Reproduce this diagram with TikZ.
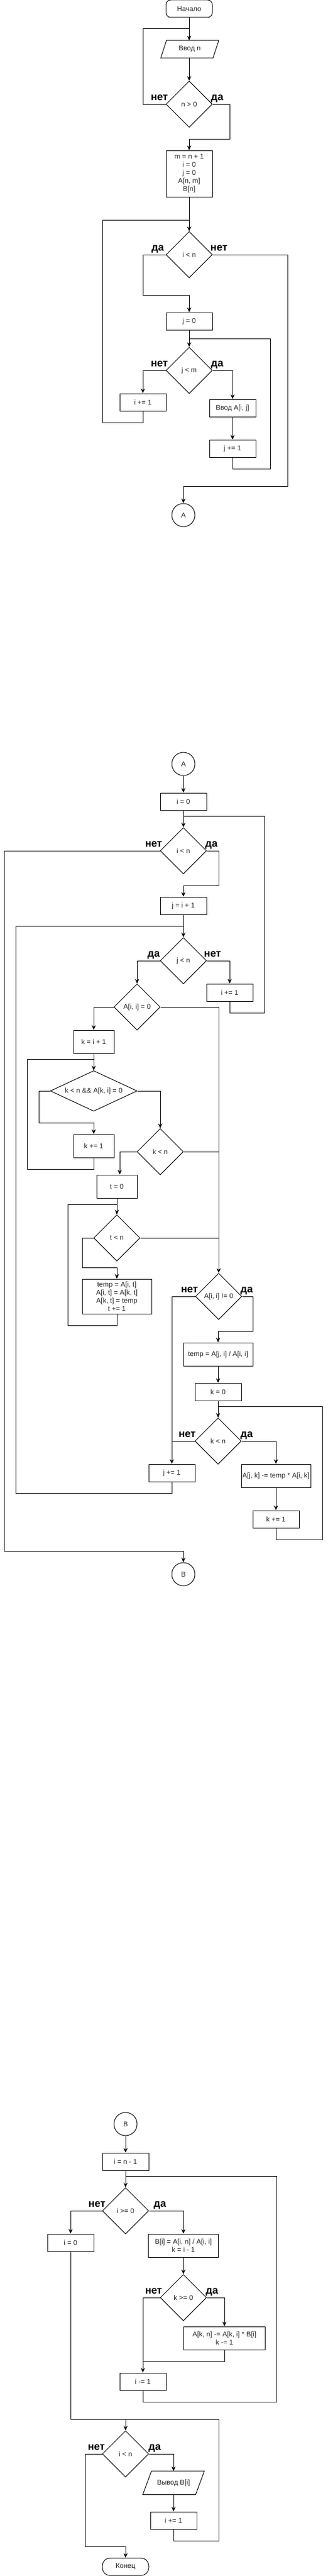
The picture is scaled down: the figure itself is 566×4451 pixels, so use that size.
\documentclass[tikz,border=0pt]{standalone}
\usepackage{fontspec}
\setmainfont{Liberation Sans}
\usetikzlibrary{shapes.geometric,arrows.meta,calc}
\begin{document}
\begin{tikzpicture}[x=1pt,y=-1pt,
  every node/.style={font=\fontsize{12}{14}\selectfont, text=black!85},
  box/.style={draw=black, line width=1pt, rectangle, inner sep=0pt, align=center, minimum width=80pt, minimum height=30pt},
  term/.style={box, rounded corners=8pt},
  dia/.style={draw=black, line width=1pt, diamond, inner sep=0pt, minimum width=80pt, minimum height=80pt},
  dtext/.style={inner sep=0pt, align=center},
  circ/.style={draw=black, line width=1pt, circle, inner sep=0pt, minimum size=40pt},
  io/.style={rectangle, inner sep=0pt, minimum height=30pt},
  lbl/.style={font=\fontsize{18}{20}\selectfont\bfseries, text=black, inner sep=0pt},
  ln/.style={draw=black, line width=1pt},
  arr/.style={ln, -{Stealth[length=8pt,width=7pt,inset=2.5pt]}},
]
\path[use as bounding box, fill=white] (0,0) rectangle (566,4451);

% ---------------- page 1 ----------------
\node[term] (start) at (327,15) {Начало};
\node[io, minimum width=90pt] (vin) at (328,85) {Ввод n};
\draw[ln] ([xshift=5pt]vin.north west) -- ([xshift=5pt]vin.north east) -- ([xshift=-5pt]vin.south east) -- ([xshift=-5pt]vin.south west) -- cycle;
\node[dia] (d1) at (327,180) {}; \node[dtext] (d1t) at (d1) {n > 0};
\node[box, minimum height=80pt] (b1) at (327,300) {m = n + 1\\i = 0\\j = 0\\A[n, m]\\B[n]};
\node[dia] (d2) at (327,440) {}; \node[dtext] (d2t) at (d2) {i < n};
\node[box] (b2) at (327,555) {j = 0};
\node[dia] (d3) at (327,640) {}; \node[dtext] (d3t) at (d3) {j < m};
\node[box] (b3) at (247,695) {i += 1};
\node[box] (b4) at (402,705) {Ввод A[i, j]};
\node[box] (b5) at (402,775) {j += 1};
\node[circ] (cA) at (317,890) {A};

\coordinate (j0) at (327,50);
\coordinate (j1) at (327,380);
\coordinate (j2) at (327,585);
\draw[arr] (start.south) -- (start.south |- vin.north);
\draw[ln] (d1.west) -| (247,50) -- (j0);
\draw[arr] (vin.south -| start.south) -- (d1.north);
\draw[arr] (d1.east) -| (397,240) -| (b1.north);
\draw[arr] (b1.south) -- (d2.north);
\draw[ln] (b3.south) -- ++(0,20) -| (177,380) -- (j1);
\draw[arr] (d2.west) -| (247,510) -| (b2.north);
\draw[arr] (d2.east) -| (497,840) -| (cA.north);
\draw[arr] (b2.south) -- (d3.north);
\draw[arr] (d3.west) -| (b3.north);
\draw[arr] (d3.east) -| (b4.north);
\draw[arr] (b4.south) -- (b5.north);
\draw[ln] (b5.south) -- ++(0,20) -| (467,585) -- (j2);

\node[lbl, anchor=base east] (d1n) at ($(d1.west)+(4,-7)$) {нет};
\node[lbl, anchor=base west] (d1y) at ($(d1.east)+(-3,-7)$) {да};
\node[lbl, anchor=base east] (d2y) at ($(d2.west)+(-3,-7)$) {да};
\node[lbl, anchor=base west] (d2n) at ($(d2.east)+(-4,-7)$) {нет};
\node[lbl, anchor=base east] (d3n) at ($(d3.west)+(4,-7)$) {нет};
\node[lbl, anchor=base west] (d3y) at ($(d3.east)+(-3,-7)$) {да};

% ---------------- page 2 ----------------
\node[circ] (cA2) at (317,1320) {A};
\node[box] (b6) at (317,1385) {i = 0};
\node[dia] (d4) at (317,1470) {}; \node[dtext] (d4t) at (d4) {i < n};
\node[box] (b7) at (317,1565) {j = i + 1};
\node[dia] (d5) at (317,1660) {}; \node[dtext] (d5t) at (d5) {j < n};
\node[box] (b8) at (397,1715) {i += 1};
\node[dia] (d6) at (237,1740) {}; \node[dtext] (d6t) at (d6) {A[i, i] = 0};
\node[box, minimum width=70pt, minimum height=40pt] (b9) at (162,1800) {k = i + 1};
\node[dia, minimum width=150pt, minimum height=70pt] (d7) at (162,1885) {}; \node[dtext] (d7t) at (d7) {k < n \&\& A[k, i] = 0};
\node[box, minimum width=70pt, minimum height=40pt] (b10) at (162,1980) {k += 1};
\node[dia] (d8) at (277,1990) {}; \node[dtext] (d8t) at (d8) {k < n};
\node[box, minimum width=70pt, minimum height=40pt] (b11) at (202,2050) {t = 0};
\node[dia] (d9) at (202,2139) {}; \node[dtext] (d9t) at (d9) {t < n};
\node[box, minimum width=120pt, minimum height=60pt] (b12) at (202,2240) {temp = A[i, t]\\A[i, t] = A[k, t]\\A[k, t] = temp\\t += 1};
\node[dia] (d10) at (378,2240) {}; \node[dtext] (d10t) at (d10) {A[i, i] != 0};
\node[box, minimum width=120pt, minimum height=40pt] (b13) at (377,2340) {temp = A[j, i] / A[i, i]};
\node[box] (b14) at (377,2405) {k = 0};
\node[dia] (d11) at (377,2490) {}; \node[dtext] (d11t) at (d11) {k < n};
\node[box] (b15) at (297,2545) {j += 1};
\node[box, minimum width=120pt, minimum height=40pt] (b16) at (477,2550) {A[j, k] -= temp * A[i, k]};
\node[box] (b17) at (477,2625) {k += 1};
\node[circ] (cB) at (317,2720) {B};

\coordinate (j3) at (317,1410);
\coordinate (j4) at (317,1600);
\coordinate (j5) at (162,1830);
\coordinate (j6) at (202,2081);
\coordinate (j7) at (377,2430);
\draw[arr] (cA2.south) -- (b6.north);
\draw[arr] (b6.south) -- (d4.north);
\draw[arr] (d4.west) -| (7,2680) -| (cB.north);
\draw[arr] (d4.east) -| (378,1530) -| (b7.north);
\draw[arr] (b7.south) -- (d5.north);
\draw[ln] (b8.south) -- ++(0,20) -| (457,1410) -- (j3);
\draw[arr] (d5.west) -| (d6.north);
\draw[arr] (d5.east) -| (b8.north);
\draw[arr] (d6.west) -| (b9.north);
\draw[arr] (d6.east) -| (d10.north);
\draw[arr] (b9.south) -- (d7.north);
\draw[ln] (b10.south) -- ++(0,20) -| (47,1830) -- (j5);
\draw[arr] (d7.west) -| (67,1940) -| (b10.north);
\draw[arr] (d7.east) -| (d8.north);
\draw[arr] (d8.west) -| ($(b11.north)+(5,0)$);
\draw[ln] (d8.east) -- (d8.east -| d10.north);
\draw[arr] (b11.south) -- (d9.north);
\draw[ln] (b12.south) -- ++(0,20) -| (117,2081) -- (j6);
\draw[arr] (d9.west) -| (142,2190) -| (b12.north);
\draw[ln] (d9.east) -- (d9.east -| d10.north);
\draw[arr] (d10.west) -| (b15.north);
\draw[arr] (d10.east) -| (437,2300) -| (b13.north);
\draw[arr] (b13.south) -- (b14.north);
\draw[arr] (b14.south) -- (d11.north);
\draw[ln] (d11.west) -- (d11.west -| b15.north);
\draw[arr] (d11.east) -| (b16.north);
\draw[arr] (b16.south) -- (b17.north);
\draw[ln] (b17.south) -- ++(0,20) -| (557,2430) -- (j7);
\draw[ln] (b15.south) -- ++(0,20) -| (27,1600) -- (j4);

\node[lbl, anchor=base east] (d4n) at ($(d4.west)+(4,-7)$) {нет};
\node[lbl, anchor=base west] (d4y) at ($(d4.east)+(-3,-7)$) {да};
\node[lbl, anchor=base east] (d5y) at ($(d5.west)+(0,-7)$) {да};
\node[lbl, anchor=base west] (d5n) at ($(d5.east)+(-5,-7)$) {нет};
\node[lbl, anchor=base east] (d10n) at ($(d10.west)+(5,-7)$) {нет};
\node[lbl, anchor=base west] (d10y) at ($(d10.east)+(-3,-7)$) {да};
\node[lbl, anchor=base east] (d11n) at ($(d11.west)+(2,-7)$) {нет};
\node[lbl, anchor=base west] (d11y) at ($(d11.east)+(-2,-7)$) {да};

% ---------------- page 3 ----------------
\node[circ] (cB2) at (217,3670) {B};
\node[box] (b18) at (217,3735) {i = n - 1};
\node[dia] (d12) at (217,3820) {}; \node[dtext] (d12t) at (d12) {i >= 0};
\node[box] (b19) at (122,3875) {i = 0};
\node[box, minimum width=121pt, minimum height=40pt] (b20) at (317,3880) {B[i] = A[i, n] / A[i, i]\\k = i - 1};
\node[dia] (d13) at (317,3970) {}; \node[dtext] (d13t) at (d13) {k >= 0};
\node[box, minimum width=141pt, minimum height=40pt] (b21) at (388,4040) {A[k, n] -= A[k, i] * B[i]\\k -= 1};
\node[box] (b22) at (247,4115) {i -= 1};
\node[dia] (d14) at (217,4240) {}; \node[dtext] (d14t) at (d14) {i < n};
\node[io, minimum width=91pt, minimum height=40pt] (vout) at (300,4290) {Вывод B[i]};
\draw[ln] ([xshift=7.5pt]vout.north west) -- ([xshift=7.5pt]vout.north east) -- ([xshift=-7.5pt]vout.south east) -- ([xshift=-7.5pt]vout.south west) -- cycle;
\node[box] (b23) at (300,4355) {i += 1};
\node[box, rounded corners=13pt] (fin) at (217,4435) {Конец};

\coordinate (j8) at (217,3760);
\coordinate (j9) at (217,4180);
\draw[arr] (cB2.south) -- (b18.north);
\draw[arr] (b18.south) -- (d12.north);
\draw[ln] (b22.south) -- ++(0,20) -| (478,3760) -- (j8);
\draw[arr] (d12.west) -| (b19.north);
\draw[arr] (d12.east) -| (b20.north);
\draw[arr] (b20.south) -- (d13.north);
\draw[arr] (d13.west) -| (b22.north);
\draw[arr] (d13.east) -| (b21.north);
\draw[ln] (b21.south) |- (247,4080);
\draw[ln] (b19.south) |- (j9);
\draw[arr] (j9) -- (d14.north);
\draw[ln] (b23.south) -- ++(0,20) -| (378,4180) -- (j9);
\draw[arr] (d14.west) -| (147,4400) -| (fin.north);
\draw[arr] (d14.east) -| (vout.north);
\draw[arr] (vout.south) -- (b23.north);

\node[lbl, anchor=base east] (d12n) at ($(d12.west)+(6,-7)$) {нет};
\node[lbl, anchor=base west] (d12y) at ($(d12.east)+(8,-7)$) {да};
\node[lbl, anchor=base east] (d13n) at ($(d13.west)+(4,-7)$) {нет};
\node[lbl, anchor=base west] (d13y) at ($(d13.east)+(-2,-7)$) {да};
\node[lbl, anchor=base east] (d14n) at ($(d14.west)+(5,-7)$) {нет};
\node[lbl, anchor=base west] (d14y) at ($(d14.east)+(-1,-7)$) {да};
\end{tikzpicture}
\end{document}
